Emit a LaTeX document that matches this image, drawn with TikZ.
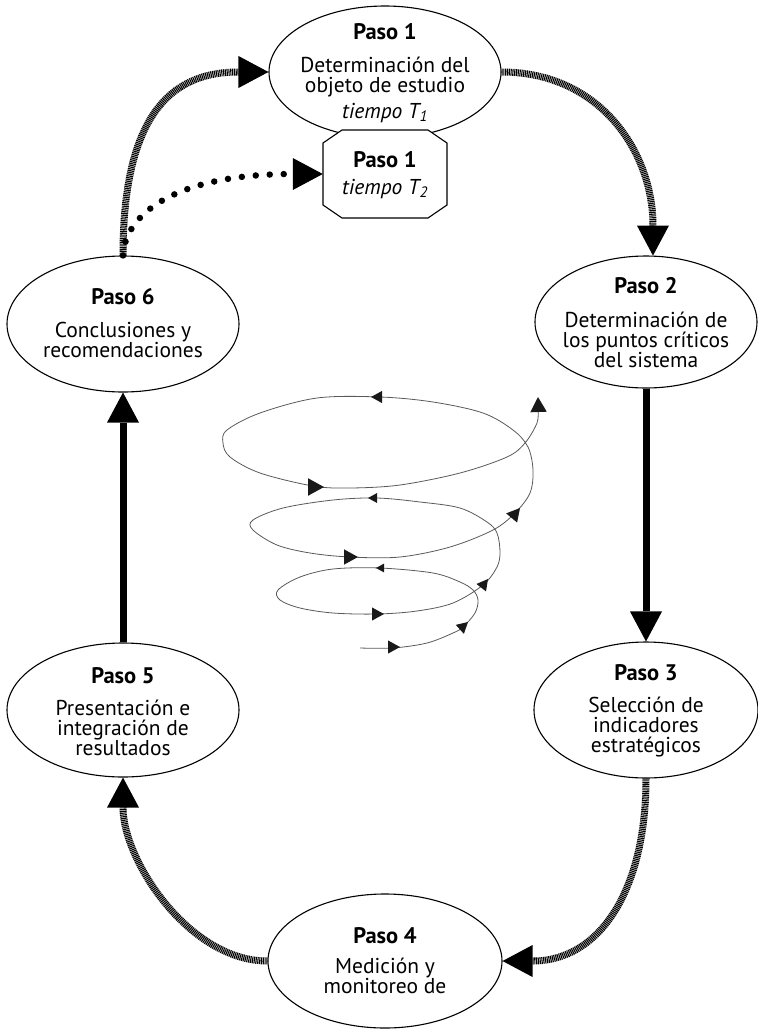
\documentclass[tikz,border=0pt]{standalone}
\usepackage{fontspec}
\setmainfont{PT Sans}
\usetikzlibrary{shapes.geometric,arrows.meta}
\newcommand\sparr[4]{\fill[spiralarr, shift={(#1,#2)}, rotate=#3] (0,0) -- (-#4,{0.55*#4}) -- (-#4,{-0.55*#4}) -- cycle;}
\newcommand\stephead[1]{{\fontsize{22.5}{20}\selectfont\bfseries #1}}
\begin{document}
\begin{tikzpicture}[x=1pt,y=-1pt,
  stepell/.style={ellipse, draw, line width=1.1pt, inner sep=0pt, fill=white},
  steptxt/.style={align=center, font=\fontsize{21.5}{20}\selectfont, inner sep=0pt},
  bigtip/.style={-{Triangle[length=30pt,width=32pt,line width=0pt]}},
  striped/.style={bigtip, line width=7pt, dash pattern=on 1.1pt off 0.7pt},
  solidarr/.style={bigtip, line width=7pt},
  dotarr/.style={bigtip, line width=6.5pt, line cap=round, dash pattern=on 0pt off 14pt},
  spiral/.style={draw=black!65, line width=0.8pt},
  spiralarr/.style={fill=black!90}
]
\useasboundingbox (0,0) rectangle (758,1029);

% ellipses
\node[stepell, minimum width=232pt, minimum height=132pt] (p1) at (385,72) {};
\node[stepell, minimum width=222pt, minimum height=132pt] (p2) at (646,322) {};
\node[stepell, minimum width=224pt, minimum height=136pt] (p3) at (646,710) {};
\node[stepell, minimum width=234pt, minimum height=134pt] (p4) at (385,961) {};
\node[stepell, minimum width=232pt, minimum height=134pt] (p5) at (123,710) {};
\node[stepell, minimum width=232pt, minimum height=136pt] (p6) at (123,324) {};

% octagon
\draw[line width=1.1pt, fill=white] (342,130) -- (428,130) -- (447,143) -- (447,205) -- (428,218) -- (342,218) -- (323,205) -- (323,143) -- cycle;
\node[minimum width=124pt, minimum height=88pt, inner sep=0pt] (p1b) at (385,174) {};

% texts
\node[steptxt] (t1) at (385,73) {\stephead{Paso 1}\\[13pt]Determinación del\\objeto de estudio\\[6pt]\textit{tiempo T\textsubscript{1}}};
\node[steptxt] (t1b) at (385,175) {\stephead{Paso 1}\\[7pt]\textit{tiempo T\textsubscript{2}}};
\node[steptxt] (t2) at (646,322.5) {\stephead{Paso 2}\\[14pt]Determinación de\\los puntos críticos\\del sistema};
\node[steptxt] (t3) at (646,711) {\stephead{Paso 3}\\[12pt]Selección de\\indicadores\\estratégicos};
\node[steptxt] (t4) at (385,961) {\stephead{Paso 4}\\[10pt]Medición y\\monitoreo de};
\node[steptxt] (t5) at (123,712) {\stephead{Paso 5}\\[12pt]Presentación e\\integración de\\resultados};
\node[steptxt] (t6) at (123,323) {\stephead{Paso 6}\\[13pt]Conclusiones y\\recomendaciones};

% connectors
\draw[striped] (p6.north) .. controls +(0,-150) and +(-90,0) .. (p1.west);
\draw[striped] (p1.east) .. controls +(98,0) and +(0,-104) .. (p2.84);
\draw[solidarr] (p2.south) -- (p3.north);
\draw[striped] (p3.south) .. controls +(0,112) and +(97,0) .. (p4.east);
\draw[striped] (p4.west) .. controls +(-78,0) and +(0,83) .. (p5.south);
\draw[solidarr] (p5.north) -- (p6.south);
\draw[dotarr] (p6.north) .. controls +(2,-41) and +(-148,0) .. (p1b.west);

% spiral
\draw[spiral] plot[smooth, tension=0.55] coordinates {
(360,648) (393,648) (427,643) (453,633) (463,627) (475,613) (478,600) (473,590) (460,582) (433,573)
(380,568) (333,569) (300,577) (278,590) (280,600) (300,608) (333,613) (377,614) (417,611) (453,603)
(483,585) (497,567) (500,552) (497,533) (487,522) (460,508) (420,502) (377,498) (333,500) (283,508)
(253,520) (253,530) (277,545) (310,553) (350,557) (400,557) (450,547) (493,530) (515,513) (530,493)
(533,470) (528,447) (513,430) (483,413) (433,402) (380,397) (317,398) (260,413) (227,430) (223,443)
(230,457) (260,473) (313,486) (350,488) (400,485) (460,473) (507,457) (525,443) (537,423) (538,410)};
\sparr{400}{647}{0}{12}
\sparr{468}{622}{42}{11}
\sparr{376}{568}{180}{8}
\sparr{384}{614}{0}{12}
\sparr{488}{579}{52}{11}
\sparr{368}{498}{180}{9}
\sparr{358}{557}{0}{14}
\sparr{520}{508}{50}{13}
\sparr{371}{397}{180}{11}
\sparr{324}{487}{0}{16}
\sparr{538}{397}{92}{15}
\end{tikzpicture}
\end{document}
